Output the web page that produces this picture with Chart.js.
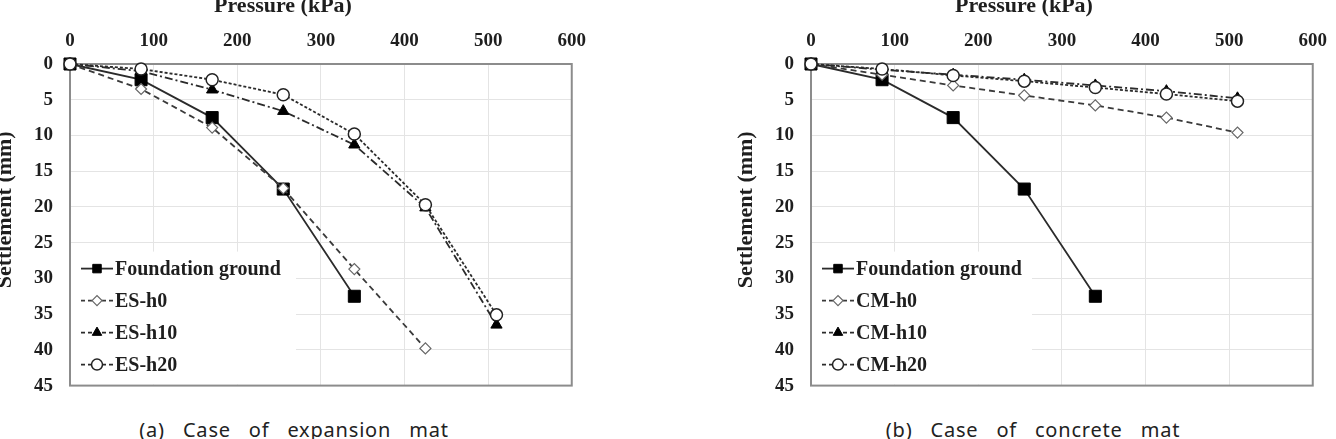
<!DOCTYPE html>
<html>
<head>
<meta charset="utf-8">
<script src="https://cdn.jsdelivr.net/npm/chart.js@4.4.1/dist/chart.umd.min.js"></script>
<style>
  body { margin: 0; width: 1336px; height: 439px; overflow: hidden; background: #fff; position: relative; }
  .box { position: absolute; top: -5px; width: 608px; height: 419px; }
  .caption { position: absolute; top: 416px; width: 500px; text-align: center; line-height: 28px;
    font-family: "Noto Sans", sans-serif; font-size: 20px; letter-spacing: 0.8px; word-spacing: 12px; color: #222; }
</style>
</head>
<body>
<div class="box" style="left:-10px"><canvas id="chartA" width="608" height="419"></canvas></div>
<div class="box" style="left:731px"><canvas id="chartB" width="608" height="419"></canvas></div>
<div class="caption" style="left:44px">(a) Case of expansion mat</div>
<div class="caption" style="left:783px">(b) Case of concrete mat</div>
<script>
// pressure steps (kPa)
const pressure = [0, 85, 170, 255, 340, 425, 510];

// settlement (mm)
const foundation = [0, 2.2, 7.5, 17.5, 32.5];
const esH0 = [0, 3.5, 8.9, 17.4, 28.7, 39.8];
const esH10 = [0, 1.0, 3.6, 6.6, 11.3, 20.1, 36.5];
const esH20 = [0, 0.7, 2.2, 4.3, 9.8, 19.7, 35.1];
const cmH0 = [0, 1.5, 3.0, 4.4, 5.8, 7.5, 9.6];
const cmH10 = [0, 0.8, 1.5, 2.2, 3.0, 3.8, 4.8];
const cmH20 = [0, 0.7, 1.6, 2.4, 3.3, 4.2, 5.2];

const xTicks = [0, 100, 200, 300, 400, 500, 600];
const yTicks = [0, 5, 10, 15, 20, 25, 30, 35, 40, 45];

const serif = '"Liberation Serif", "Times New Roman", serif';

function pts(vals) {
  return vals.map((v, i) => ({ x: pressure[i], y: v }));
}

function makeSets(labels, s0, s10, s20) {
  return [
    { label: 'Foundation ground', data: pts(foundation), order: 4, clip: false,
      borderColor: '#2b2b2b', borderWidth: 1.8, borderDash: [],
      pointStyle: 'rect', pointRadius: 8.5, pointBackgroundColor: '#000', pointBorderColor: '#000', pointBorderWidth: 1,
      legendRadius: 6 },
    { label: labels[0], data: pts(s0), order: 3, clip: false,
      borderColor: '#3a3a3a', borderWidth: 1.8, borderDash: [6, 4],
      pointStyle: 'rectRot', pointRadius: 5.5, pointBackgroundColor: '#fff', pointBorderColor: '#666', pointBorderWidth: 1.2,
      legendRadius: 5 },
    { label: labels[1], data: pts(s10), order: 2, clip: false,
      borderColor: '#2b2b2b', borderWidth: 1.8, borderDash: [8, 3, 2, 3],
      pointStyle: 'triangle', pointRadius: 6.5, pointBackgroundColor: '#000', pointBorderColor: '#000', pointBorderWidth: 1,
      legendRadius: 5.5 },
    { label: labels[2], data: pts(s20), order: 1, clip: false,
      borderColor: '#2b2b2b', borderWidth: 1.8, borderDash: [3, 2],
      pointStyle: 'circle', pointRadius: 6, pointBackgroundColor: '#fff', pointBorderColor: '#222', pointBorderWidth: 1.5,
      legendRadius: 5.5 }
  ];
}

// frame round the plot, y title, and the legend in the lower left corner of the plot
const frameLegend = {
  id: 'frameLegend',
  beforeDatasetsDraw(chart, args, opts) {
    const { ctx, chartArea: a } = chart;
    const top = a.bottom - 134;
    ctx.save();
    ctx.fillStyle = '#fff';
    ctx.fillRect(a.left + 1, top, opts.width, a.bottom - top - 1);
    ctx.strokeStyle = '#8c8c8c';
    ctx.lineWidth = 2;
    ctx.strokeRect(a.left, a.top, a.right - a.left, a.bottom - a.top);

    // y axis title, sits a bit above the middle like the original
    ctx.save();
    ctx.translate(a.left - 65, (a.top + a.bottom) / 2 - 15);
    ctx.rotate(-Math.PI / 2);
    ctx.font = 'bold 22px ' + serif;
    ctx.fillStyle = '#1e1e1e';
    ctx.textAlign = 'center';
    ctx.textBaseline = 'middle';
    ctx.fillText('Settlement (mm)', 0, 0);
    ctx.restore();

    ctx.font = 'bold 20px ' + serif;
    ctx.textBaseline = 'middle';
    ctx.textAlign = 'left';
    chart.data.datasets.forEach((ds, i) => {
      const y = a.bottom - 117 + i * 32;
      const x0 = a.left + 11, x1 = a.left + 43, mx = a.left + 27;
      ctx.strokeStyle = ds.borderColor;
      ctx.lineWidth = ds.borderWidth;
      ctx.setLineDash(ds.borderDash.length ? [4, 3] : []);
      ctx.beginPath();
      ctx.moveTo(x0, y);
      ctx.lineTo(x1, y);
      ctx.stroke();
      ctx.setLineDash([]);
      ctx.fillStyle = ds.pointBackgroundColor;
      ctx.strokeStyle = ds.pointBorderColor;
      ctx.lineWidth = ds.pointBorderWidth;
      Chart.helpers.drawPoint(ctx, { pointStyle: ds.pointStyle, radius: ds.legendRadius, rotation: 0, borderWidth: ds.pointBorderWidth }, mx, y);
      ctx.fillStyle = '#1e1e1e';
      ctx.fillText(ds.label, a.left + 45, y + 1);
    });
    ctx.restore();
  }
};

function makeChart(id, labels, s0, s10, s20, legendWidth) {
  new Chart(document.getElementById(id), {
    type: 'line',
    data: { datasets: makeSets(labels, s0, s10, s20) },
    plugins: [frameLegend],
    options: {
      responsive: false,
      animation: false,
      layout: { padding: { left: 0, right: 22, top: 0, bottom: 14 } },
      elements: { line: { tension: 0 } },
      plugins: {
        legend: { display: false },
        tooltip: { enabled: false },
        title: { display: true, text: 'Pressure (kPa)', color: '#1e1e1e',
          font: { family: serif, size: 22, weight: 'bold', lineHeight: 1 }, padding: { top: 0, bottom: 0 } },
        frameLegend: { width: legendWidth }
      },
      scales: {
        x: {
          type: 'linear', position: 'top', min: 0, max: 600,
          afterBuildTicks: s => { s.ticks = xTicks.map(v => ({ value: v })); },
          afterFit: s => { s.height = 47; },
          grid: { color: '#e4e4e4', drawTicks: false },
          border: { display: false },
          ticks: { padding: 12, color: '#1e1e1e', font: { family: serif, size: 19, weight: 'bold' } }
        },
        y: {
          type: 'linear', reverse: true, min: 0, max: 45,
          afterBuildTicks: s => { s.ticks = yTicks.map(v => ({ value: v })); },
          afterFit: s => { s.width = 80; },
          grid: { color: '#e4e4e4', drawTicks: false },
          border: { display: false },
          ticks: { padding: 17, color: '#1e1e1e', font: { family: serif, size: 19, weight: 'bold' } }
        }
      }
    }
  });
}

makeChart('chartA', ['ES-h0', 'ES-h10', 'ES-h20'], esH0, esH10, esH20, 225);
makeChart('chartB', ['CM-h0', 'CM-h10', 'CM-h20'], cmH0, cmH10, cmH20, 220);
</script>
</body>
</html>
